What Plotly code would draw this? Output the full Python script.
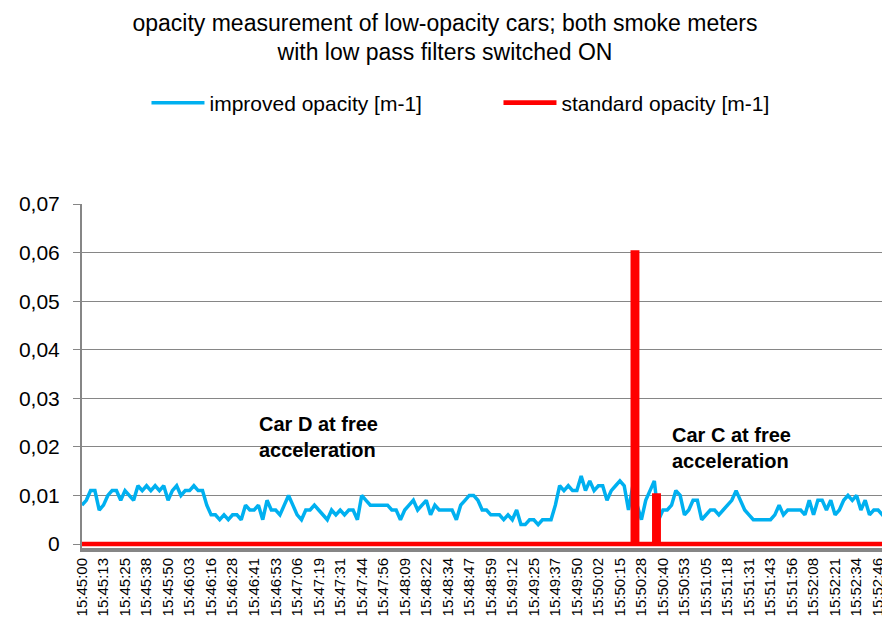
import plotly.graph_objects as go

# ---------------- data ----------------
tick_labels = [
    "15:45:00", "15:45:13", "15:45:25", "15:45:38", "15:45:50", "15:46:03",
    "15:46:16", "15:46:28", "15:46:41", "15:46:53", "15:47:06", "15:47:19",
    "15:47:31", "15:47:44", "15:47:56", "15:48:09", "15:48:22", "15:48:34",
    "15:48:47", "15:48:59", "15:49:12", "15:49:25", "15:49:37", "15:49:50",
    "15:50:02", "15:50:15", "15:50:28", "15:50:40", "15:50:53", "15:51:05",
    "15:51:18", "15:51:31", "15:51:43", "15:51:56", "15:52:08", "15:52:21",
    "15:52:34", "15:52:46",
]
samples_per_label = 5

improved_opacity = [
    0.008, 0.009, 0.011, 0.011, 0.007, 0.008, 0.010, 0.011, 0.011, 0.009,
    0.011, 0.010, 0.009, 0.012, 0.011, 0.012, 0.011, 0.012, 0.011, 0.012,
    0.009, 0.011, 0.012, 0.010, 0.011, 0.011, 0.012, 0.011, 0.011, 0.008,
    0.006, 0.006, 0.005, 0.006, 0.005, 0.006, 0.006, 0.005, 0.008, 0.007,
    0.007, 0.008, 0.005, 0.009, 0.007, 0.007, 0.006, 0.008, 0.010, 0.008,
    0.006, 0.005, 0.007, 0.007, 0.008, 0.007, 0.006, 0.005, 0.007, 0.006,
    0.007, 0.006, 0.007, 0.007, 0.005, 0.010, 0.009, 0.008, 0.008, 0.008,
    0.008, 0.008, 0.007, 0.007, 0.005, 0.007, 0.008, 0.009, 0.007, 0.008,
    0.009, 0.006, 0.008, 0.007, 0.007, 0.007, 0.007, 0.005, 0.008, 0.009,
    0.010, 0.010, 0.009, 0.007, 0.007, 0.006, 0.006, 0.006, 0.005, 0.006,
    0.005, 0.007, 0.004, 0.004, 0.005, 0.005, 0.004, 0.005, 0.005, 0.005,
    0.008, 0.012, 0.011, 0.012, 0.011, 0.011, 0.014, 0.011, 0.013, 0.011,
    0.012, 0.012, 0.009, 0.011, 0.012, 0.013, 0.012, 0.007, 0.012, 0.008,
    0.005, 0.009, 0.011, 0.013, 0.005, 0.007, 0.007, 0.008, 0.011, 0.010,
    0.006, 0.007, 0.009, 0.009, 0.005, 0.006, 0.007, 0.007, 0.006, 0.007,
    0.008, 0.009, 0.011, 0.009, 0.007, 0.006, 0.005, 0.005, 0.005, 0.005,
    0.005, 0.006, 0.008, 0.006, 0.007, 0.007, 0.007, 0.007, 0.006, 0.009,
    0.006, 0.009, 0.009, 0.007, 0.009, 0.006, 0.007, 0.009, 0.010, 0.009,
    0.010, 0.007, 0.009, 0.006, 0.007, 0.007, 0.006, 0.007,
]

standard_opacity = [
    0, 0, 0, 0, 0, 0, 0, 0, 0, 0, 0, 0, 0, 0, 0, 0, 0, 0, 0, 0,
    0, 0, 0, 0, 0, 0, 0, 0, 0, 0, 0, 0, 0, 0, 0, 0, 0, 0, 0, 0,
    0, 0, 0, 0, 0, 0, 0, 0, 0, 0, 0, 0, 0, 0, 0, 0, 0, 0, 0, 0,
    0, 0, 0, 0, 0, 0, 0, 0, 0, 0, 0, 0, 0, 0, 0, 0, 0, 0, 0, 0,
    0, 0, 0, 0, 0, 0, 0, 0, 0, 0, 0, 0, 0, 0, 0, 0, 0, 0, 0, 0,
    0, 0, 0, 0, 0, 0, 0, 0, 0, 0, 0, 0, 0, 0, 0, 0, 0, 0, 0, 0,
    0, 0, 0, 0, 0, 0, 0, 0, 0.06, 0, 0, 0, 0, 0.01, 0, 0, 0, 0, 0, 0,
    0, 0, 0, 0, 0, 0, 0, 0, 0, 0, 0, 0, 0, 0, 0, 0, 0, 0, 0, 0,
    0, 0, 0, 0, 0, 0, 0, 0, 0, 0, 0, 0, 0, 0, 0, 0, 0, 0, 0, 0,
    0, 0, 0, 0, 0, 0, 0, 0,
]

y_tick_values = [0, 0.01, 0.02, 0.03, 0.04, 0.05, 0.06, 0.07]
y_tick_labels = ["0", "0,01", "0,02", "0,03", "0,04", "0,05", "0,06", "0,07"]

series_names = ["improved opacity [m-1]", "standard opacity [m-1]"]
title_text = ("opacity measurement of low-opacity cars; both smoke meters"
              "<br>with low pass filters switched ON")
note_d = "<b>Car D at free<br>acceleration</b>"
note_c = "<b>Car C at free<br>acceleration</b>"

# ---------------- figure ----------------
FONT = "Liberation Sans, Arial, sans-serif"
GRID = "#868686"

sample_index = list(range(len(improved_opacity)))
tick_positions = [k * samples_per_label for k in range(len(tick_labels))]

fig = go.Figure()
fig.add_trace(go.Scatter(
    x=sample_index, y=improved_opacity, mode="lines", name=series_names[0],
    line=dict(color="#00B0F0", width=3.5),
))
fig.add_trace(go.Scatter(
    x=sample_index, y=standard_opacity, mode="lines", name=series_names[1],
    line=dict(color="#FF0000", width=4.6, shape="hv"),
))

fig.update_layout(
    width=890, height=627,
    margin=dict(l=74, r=10, t=196, b=87),
    paper_bgcolor="white", plot_bgcolor="white",
    font=dict(family=FONT, color="black"),
    title=dict(text=title_text, x=0.491, xref="container", xanchor="center",
               y=0.964, yref="container", yanchor="top",
               font=dict(size=23, family=FONT, color="black")),
    legend=dict(orientation="h", x=0.08, xanchor="left", y=1.2936,
                yanchor="middle", font=dict(size=21, family=FONT),
                bgcolor="rgba(0,0,0,0)", itemwidth=53,
                entrywidth=284, entrywidthmode="pixels"),
    showlegend=True,
    annotations=[
        dict(text=note_d, x=40.6, y=0.0221, xref="x", yref="y",
             xanchor="left", yanchor="middle", align="left", showarrow=False,
             font=dict(size=20, family=FONT, color="black")),
        dict(text=note_c, x=136.6, y=0.0197, xref="x", yref="y",
             xanchor="left", yanchor="middle", align="left", showarrow=False,
             font=dict(size=20, family=FONT, color="black")),
    ],
)

fig.update_xaxes(
    range=[0, 187.3], tickmode="array", tickvals=tick_positions,
    ticktext=tick_labels, tickangle=-90, tickfont=dict(size=15, family=FONT),
    showgrid=False, zeroline=False, showline=True, linecolor=GRID, linewidth=4,
    ticks="",
)
fig.update_yaxes(
    range=[-0.00082, 0.07], tickmode="array", tickvals=y_tick_values,
    ticktext=y_tick_labels, tickfont=dict(size=21, family=FONT),
    showgrid=True, gridcolor=GRID, gridwidth=1, zeroline=False,
    showline=True, linecolor=GRID, linewidth=2,
    ticks="outside", ticklen=7, tickcolor=GRID, ticklabelstandoff=9,
)

fig.write_html("out.html")
